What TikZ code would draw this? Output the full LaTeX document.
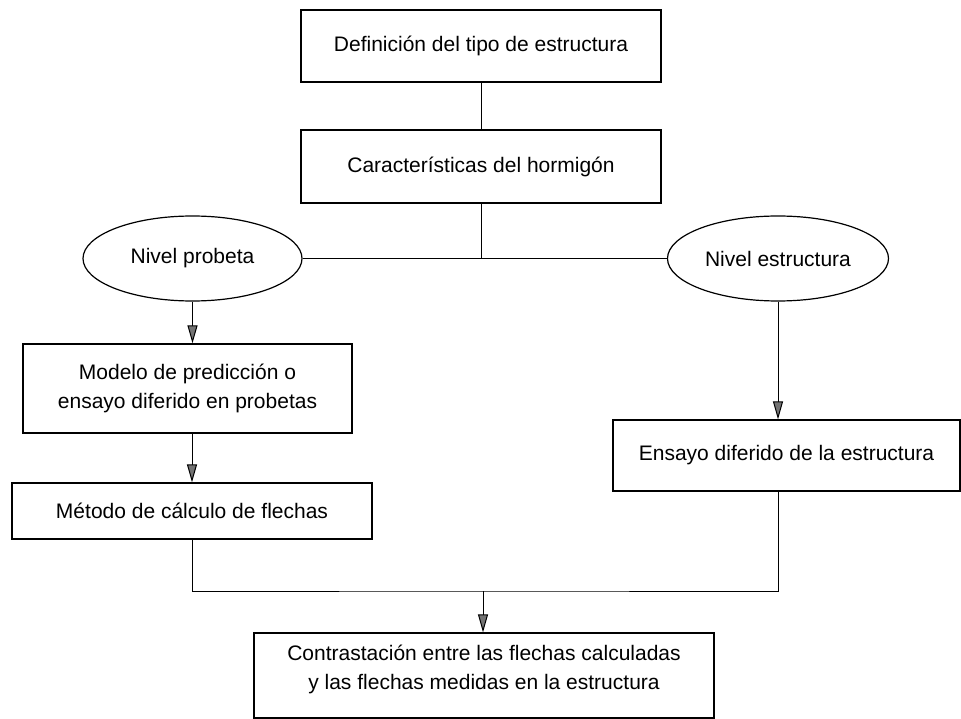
\documentclass[tikz,border=0pt]{standalone}
\usepackage{fontspec}
\setmainfont{Liberation Sans}
\usetikzlibrary{shapes.geometric,arrows.meta}

\begin{document}
\begin{tikzpicture}[x=1pt,y=1pt]
		\tikzstyle{every node}+=[inner sep=0pt,font=\fontsize{21}{29}\selectfont]
		\tikzstyle{box}=[draw,line width=1.2pt,align=center]
		\tikzstyle{oval}=[draw,ellipse,line width=1.2pt]
		\tikzstyle{arr}=[-{Triangle[width=10pt,length=18pt,fill=black!55]}]
		\useasboundingbox (0,0) rectangle (961,-719);
		\node [box,minimum width=360,minimum height=72] (def) at (481,-46) {Definición del tipo de estructura};
		\node [box,minimum width=360,minimum height=73] (carac) at (481,-166.5) {Características del hormigón};
		\node [oval,minimum width=219,minimum height=85] (prob) at (192.5,-258.5) {Nivel probeta};
		\node [oval,minimum width=221,minimum height=85] (estr) at (778,-258.5) {Nivel estructura};
		\node [box,minimum width=329,minimum height=89] (modelo) at (187.5,-388.5) {Modelo de predicción o\\ensayo diferido en probetas};
		\node [box,minimum width=360,minimum height=56] (metodo) at (192,-511) {Método de cálculo de flechas};
		\node [box,minimum width=347,minimum height=71] (ensayo) at (786.5,-455.5) {Ensayo diferido de la estructura};
		\node [box,minimum width=460,minimum height=85,text depth=16pt] (contr) at (484,-675.5) {Contrastación entre las flechas calculadas\\y las flechas medidas en la estructura};
		\coordinate (jn) at (carac.south |- prob.east);
		\coordinate (mrg) at (483,-591);
		\draw [line width=1pt] (def.south) -- (carac.north);
		\draw [line width=1pt] (carac.south) -- (jn);
		\draw [line width=1pt] (prob.east) -- (estr.west);
		\draw [arr,line width=1pt] (prob.south) -- (prob.south |- modelo.north);
		\draw [arr,line width=1pt] (metodo.north |- modelo.south) -- (metodo.north);
		\draw [arr,line width=1pt] (estr.south) -- (estr.south |- ensayo.north);
		\draw [line width=1pt] (metodo.south) |- (mrg) -| (estr.south |- ensayo.south);
		\draw [arr,line width=1pt] (mrg) -- (mrg |- contr.north);
	\end{tikzpicture}
\end{document}
